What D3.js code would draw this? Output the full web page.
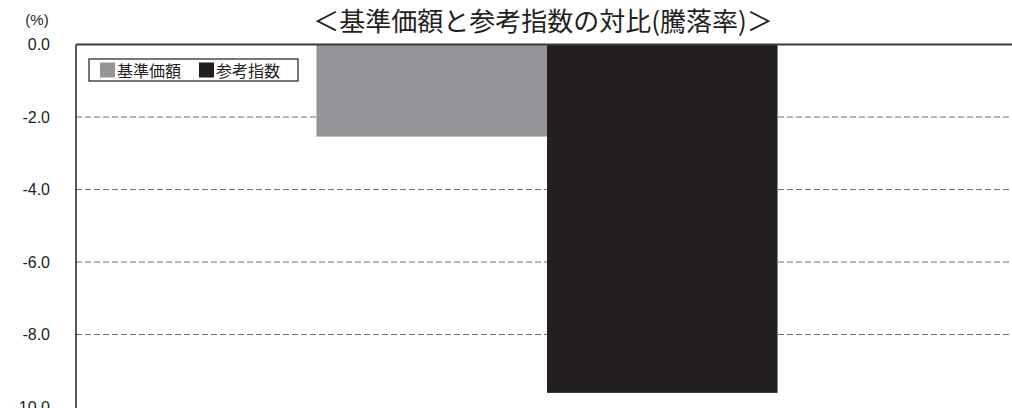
<!DOCTYPE html>
<html>
<head>
<meta charset="utf-8">
<script src="https://cdn.jsdelivr.net/npm/d3@7"></script>
<style>
body { margin:0; background:#fff; }
svg { display:block; }
</style>
</head>
<body>
<div id="chart"></div>
<script>
// data
var categories = ["基準価額", "参考指数"]
var values = [-2.54, -9.61]
var colors = ["#939598", "#231f20"]
var yTicks = [0, -2, -4, -6, -8, -10]

var margin = {top:44.5, left:76},
    width = 942,
    height = 362.5

var svg = d3.select("#chart")
    .append("svg")
    .attr("width", 1012)
    .attr("height", 408)

var g = svg.append("g")
    .attr("transform", "translate(" + margin.left + "," + margin.top + ")")

var x = d3.scaleBand()
    .domain(categories)
    .range([0, width])
    .paddingInner(0)
    .paddingOuter(1.043)

var y = d3.scaleLinear()
    .domain([0, -10])
    .range([0, height])

var color = d3.scaleOrdinal().domain(categories).range(colors)

// dashed gridlines (none at 0 and -10)
g.append("g")
    .selectAll("line")
    .data(yTicks.filter(d => d != 0 && d != -10))
    .enter().append("line")
    .attr("x1", 0).attr("x2", width)
    .attr("y1", d => y(d)).attr("y2", d => y(d))
    .attr("stroke", "#6d6e71")
    .attr("stroke-width", 1.2)
    .attr("stroke-dasharray", "6,3")

// bars
g.append("g")
    .selectAll("rect")
    .data(values)
    .enter().append("rect")
    .attr("x", (d, i) => x(categories[i]))
    .attr("y", y(0))
    .attr("width", x.bandwidth())
    .attr("height", d => y(d) - y(0))
    .attr("fill", (d, i) => color(categories[i]))

// y axis labels
var yAxis = g.append("g")
    .call(d3.axisLeft(y).tickValues(yTicks).tickFormat(d => d.toFixed(1)).tickSize(0).tickPadding(26))
yAxis.select(".domain").remove()
yAxis.selectAll("text")
    .attr("font-family", "'Liberation Sans', Arial, sans-serif")
    .attr("font-size", 16)
    .attr("fill", "#231f20")

// axis lines
g.append("line")
    .attr("x1", 0).attr("x2", 0)
    .attr("y1", 0).attr("y2", height + 10)
    .attr("stroke", "#231f20").attr("stroke-width", 1.5)
g.append("line")
    .attr("x1", 0).attr("x2", width)
    .attr("y1", y(0)).attr("y2", y(0))
    .attr("stroke", "#3a3a3a").attr("stroke-width", 1.8)

// unit
svg.append("text")
    .attr("x", 37).attr("y", 25)
    .attr("text-anchor", "middle")
    .attr("font-family", "'Liberation Sans', Arial, sans-serif")
    .attr("font-size", 15)
    .attr("fill", "#231f20")
    .text("(%)")

// title
svg.append("text")
    .attr("x", 543).attr("y", 31)
    .attr("text-anchor", "middle")
    .attr("font-family", "'Noto Sans CJK JP', sans-serif")
    .attr("font-size", 26)
    .attr("fill", "#231f20")
    .text("＜基準価額と参考指数の対比(騰落率)＞")

// legend
var legend = svg.append("g").attr("transform", "translate(89,59)")
legend.append("rect")
    .attr("width", 209).attr("height", 22)
    .attr("fill", "#fff").attr("stroke", "#231f20").attr("stroke-width", 1.2)
var items = legend.selectAll("g.item")
    .data(categories)
    .enter().append("g")
    .attr("transform", (d, i) => "translate(" + (11 + i * 99) + ",3.5)")
items.append("rect")
    .attr("width", 15).attr("height", 15)
    .attr("fill", d => color(d))
items.append("text")
    .attr("x", 17).attr("y", 14)
    .attr("font-family", "'Noto Sans CJK JP', sans-serif")
    .attr("font-size", 16)
    .attr("fill", "#231f20")
    .text(d => d)
</script>
</body>
</html>
